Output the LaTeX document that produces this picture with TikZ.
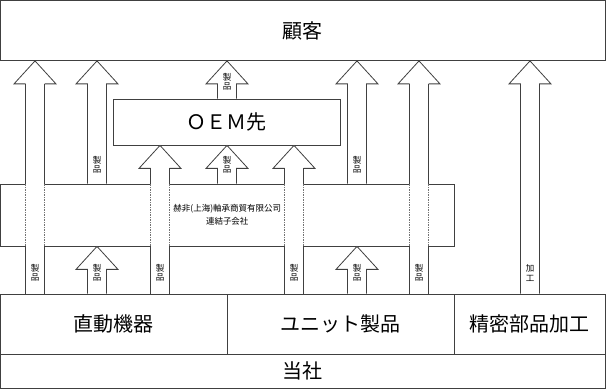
\documentclass[tikz,border=0pt]{standalone}
\usepackage{fontspec}
\setmainfont{Noto Sans CJK JP}

\tikzset{
  box/.style={draw=black!75, line width=0.8pt, inner sep=0pt, outer sep=0pt, anchor=north west},
  pipe/.style={draw=black!75, line width=0.8pt},
  hidden/.style={draw=black!55, line width=0.6pt, dash pattern=on 1.5pt off 1pt},
  tag/.style={font=\fontsize{8.5}{9.5}\selectfont, align=center, inner sep=0pt},
  big/.style={font=\fontsize{20}{24}\selectfont},
}

% block arrow at x=#1, from the top of node #2 up to the bottom of node #3
\newcommand{\blockarrow}[3]{%
  \path (#1,0 |- #2.north) ++(0,-0.4) coordinate (ab);
  \path (#1,0 |- #3.south) ++(0,0.4) coordinate (at);
  \filldraw[pipe, fill=white]
    ([xshift=-9.5pt]ab) -- ([xshift=-9.5pt, yshift=-23pt]at)
    -- ([xshift=-21pt, yshift=-23pt]at) -- (at)
    -- ([xshift=21pt, yshift=-23pt]at) -- ([xshift=9.5pt, yshift=-23pt]at)
    -- ([xshift=9.5pt]ab);
}

% same, but running through the subsidiary box (shaft dashed inside it)
\newcommand{\crossarrow}[3]{%
  \path (#1,0 |- #2.north) ++(0,-0.4) coordinate (ab);
  \path (#1,0 |- #3.south) ++(0,0.4) coordinate (at);
  \path (#1,0 |- ko.south) coordinate (al);
  \path (#1,0 |- ko.north) coordinate (ah);
  \fill[white]
    ([xshift=-9.5pt]ab) -- ([xshift=-9.5pt, yshift=-23pt]at)
    -- ([xshift=-21pt, yshift=-23pt]at) -- (at)
    -- ([xshift=21pt, yshift=-23pt]at) -- ([xshift=9.5pt, yshift=-23pt]at)
    -- ([xshift=9.5pt]ab) -- cycle;
  \foreach \s in {-9.5, 9.5} {
    \draw[pipe] ([xshift=\s pt]ab) -- ([xshift=\s pt]al);
    \draw[hidden] ([xshift=\s pt]al) -- ([xshift=\s pt]ah);
    \draw[pipe] ([xshift=\s pt]ah) -- ([xshift=\s pt, yshift=-23pt]at);
  }
  \draw[pipe]
    ([xshift=-9.5pt, yshift=-23pt]at) -- ([xshift=-21pt, yshift=-23pt]at) -- (at)
    -- ([xshift=21pt, yshift=-23pt]at) -- ([xshift=9.5pt, yshift=-23pt]at);
}

\begin{document}
\begin{tikzpicture}[x=1pt, y=-1pt]

  \useasboundingbox (0,0) rectangle (606,390);

  % === Boxes ===
  \node[box, big, minimum width=604.5pt, minimum height=60pt] (kokyaku) at (0.5,0.5) {顧客};
  \node[box, big, minimum width=227pt, minimum height=46pt] (oem) at (113,99) {ＯＥＭ先};
  \node[box, fill=white, minimum width=453.5pt, minimum height=62pt,
        font=\fontsize{8.5}{13}\selectfont, align=center] (ko) at (0.5,184)
    {赫非(上海)軸承商貿有限公司\\連結子会社};
  \node[box, big, minimum width=226.5pt, minimum height=60pt] (chokudo) at (0.5,294) {直動機器};
  \node[box, big, minimum width=227pt, minimum height=60pt] (unit) at (227,294) {ユニット製品};
  \node[box, big, minimum width=151pt, minimum height=60pt] (seimitsu) at (454,294) {精密部品加工};
  \node[box, big, minimum width=604.5pt, minimum height=34.5pt] (tosha) at (0.5,354) {当社};

  % === Arrows ===
  \crossarrow{35}{chokudo}{kokyaku}
  \blockarrow{97}{ko}{kokyaku}
  \blockarrow{97}{chokudo}{ko}
  \crossarrow{160}{chokudo}{oem}
  \blockarrow{227}{ko}{oem}
  \blockarrow{227}{oem}{kokyaku}
  \crossarrow{294}{unit}{oem}
  \blockarrow{357}{ko}{kokyaku}
  \blockarrow{357}{unit}{ko}
  \crossarrow{419}{unit}{kokyaku}
  \blockarrow{530}{seimitsu}{kokyaku}

  % === Labels on the arrows ===
  \foreach \x in {35, 97, 160, 294, 357, 419}
    \node[tag] (low-\x) at (\x,273) {製\\品};
  \node[tag] (low-530) at (530,273) {加\\工};
  \foreach \x in {97, 227, 357}
    \node[tag] (mid-\x) at (\x,165) {製\\品};
  \node[tag] (top-227) at (227,82) {製\\品};

\end{tikzpicture}
\end{document}
